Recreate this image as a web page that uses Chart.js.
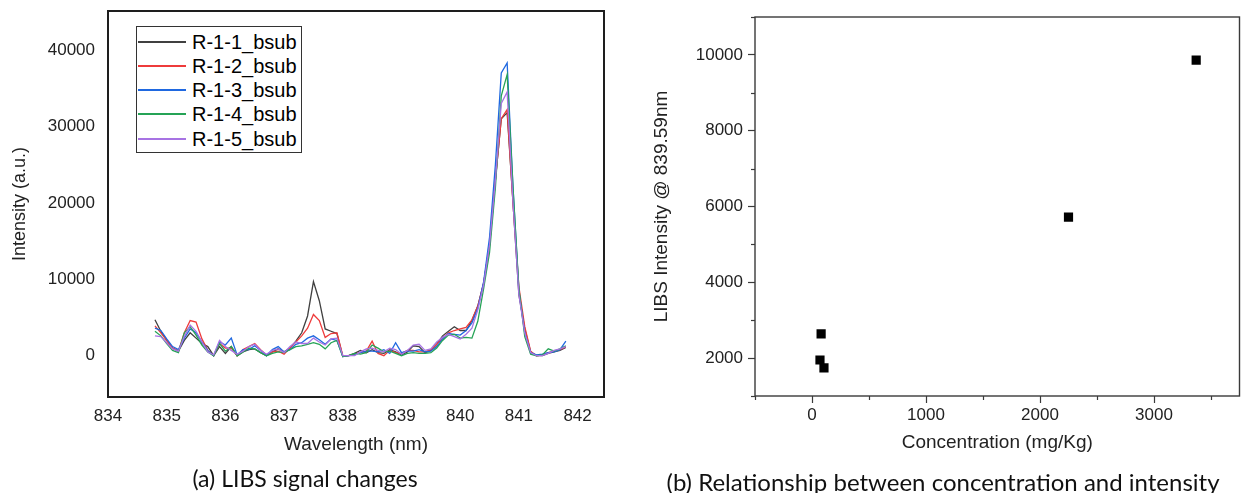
<!DOCTYPE html>
<html><head><meta charset="utf-8">
<script src="https://cdn.jsdelivr.net/npm/chart.js@4.4.0/dist/chart.umd.min.js"></script>
<style>
html,body{margin:0;padding:0;background:#fff;}
body{width:1246px;height:493px;position:relative;overflow:hidden;font-family:"Liberation Sans",Arial,sans-serif;}
#c1{position:absolute;left:0;top:0;width:620px;height:493px;}
#c2{position:absolute;left:620px;top:0;width:626px;height:493px;}
.cap{position:absolute;font-family:Lato,"Open Sans",sans-serif;white-space:nowrap;transform:translate(-50%,-50%);color:#111;}
#legend{position:absolute;left:136px;top:26px;width:164px;height:125px;border:1px solid #333;background:#fff;}
.li{position:absolute;left:0;height:24px;width:164px;}
.li .ln{position:absolute;left:1px;top:11px;width:48px;height:2px;}
.li .tx{position:absolute;left:55px;top:0;line-height:24px;font-size:20px;color:#000;font-family:"Liberation Sans",Arial,sans-serif;}
</style>
</head><body>
<canvas id="c1" width="620" height="493"></canvas>
<canvas id="c2" width="626" height="493"></canvas>
<div id="legend"></div>
<div class="cap" style="left:305px;top:478px;font-size:23px;">(a) LIBS signal changes</div>
<div class="cap" style="left:943px;top:481px;font-size:24px;">(b) Relationship between concentration and intensity</div>
<script>
// ---------- data: panel (a) ----------
const wavelengths = [834.8,834.9,835.0,835.1,835.2,835.3,835.4,835.5,835.6,835.7,
  835.8,835.9,836.0,836.1,836.2,836.3,836.4,836.5,836.6,836.7,
  836.8,836.9,837.0,837.1,837.2,837.3,837.4,837.5,837.6,837.7,
  837.8,837.9,838.0,838.1,838.2,838.3,838.4,838.5,838.6,838.7,
  838.8,838.9,839.0,839.1,839.2,839.3,839.4,839.5,839.6,839.7,
  839.8,839.9,840.0,840.1,840.2,840.3,840.4,840.5,840.6,840.7,
  840.8,840.9,841.0,841.1,841.2,841.3,841.4,841.5,841.6,841.7,841.8];
const seriesNames = ['R-1-1_bsub','R-1-2_bsub','R-1-3_bsub','R-1-4_bsub','R-1-5_bsub'];
const seriesColors = ['#404040','#ee3b3b','#1f68e0','#25a356','#a773e3'];
const r1 = [4700,3200,2000,1000,600,2000,3000,2300,1600,1200,
  0,1200,300,1200,0,500,800,900,400,0,
  500,900,500,1000,1900,3000,5200,9700,7200,3500,
  3200,2900,-100,0,300,700,400,800,400,300,
  800,500,100,500,1300,1200,400,700,1500,2600,
  3200,3800,3300,3300,4600,6500,9500,14500,23000,31000,
  31800,20000,8000,3500,500,0,0,300,500,700,1100];
const r2 = [3900,3000,2000,1000,600,3000,4600,4400,2200,700,
  0,1600,1000,1000,0,800,1200,1600,800,100,
  500,600,200,1000,1800,2600,3600,5400,4600,2400,
  2900,3000,0,0,200,400,600,1900,300,0,
  700,400,300,700,700,500,500,800,1500,2300,
  3000,3300,3500,3700,4700,6500,9500,14500,23000,31000,
  32200,20000,9000,3800,600,0,100,400,600,800,1200];
const r3 = [3600,3300,2200,1200,800,2300,3500,3000,1800,700,
  0,1800,1400,2300,100,800,800,1300,700,0,
  800,1200,500,800,1500,1700,2300,2600,2100,1500,
  2200,2000,-100,0,100,400,600,600,500,800,
  300,1700,400,600,600,800,500,600,1200,2200,
  2900,2800,2700,3300,4300,6200,9700,15500,25000,37000,
  38300,22000,8500,3000,400,100,200,400,500,800,1900];
const r4 = [3200,2600,1600,700,400,3000,3800,2700,1400,500,
  0,1600,600,1200,0,500,1000,900,400,0,
  300,500,400,800,1200,1300,1500,1700,1500,900,
  1700,2000,-100,0,300,200,400,1400,1000,500,
  600,300,0,300,400,300,300,400,1000,2000,
  2700,2800,2300,2400,2300,4500,8800,13500,22000,34000,
  36800,22000,8800,2500,200,0,100,900,600,900,1300];
const r5 = [2600,2500,1700,900,600,2500,4000,3200,1800,500,
  100,2000,1200,700,200,600,1200,1500,700,200,
  700,900,400,1200,1800,1600,1600,2300,1800,1400,
  2200,2300,0,0,0,500,900,1000,700,500,
  1000,800,200,700,1400,1500,700,900,1800,2400,
  2800,2500,2200,2800,3600,6000,9300,14500,23000,33000,
  34500,20000,8000,3000,400,0,0,300,700,900,1200];
const leftXTicks = [834,835,836,837,838,839,840,841,842];
const leftYTicks = [0,10000,20000,30000,40000];

// ---------- data: panel (b) ----------
const concentration = [3370,2250,80,70,105];
const libsIntensity = [9860,5720,2640,1950,1740];
const rightXTicks = [0,1000,2000,3000];
const rightXMinor = [-500,500,1500,2500,3500];
const rightYTicks = [2000,4000,6000,8000,10000];
const rightYMinor = [1000,3000,5000,7000,9000,11000];

Chart.defaults.font.family = "'Liberation Sans', Arial, sans-serif";
Chart.defaults.color = '#222';

const framePlugin = {
  id: 'frame',
  afterDraw(chart, args, opts) {
    const {ctx, chartArea: a} = chart;
    ctx.save();
    ctx.strokeStyle = opts.color || '#222';
    ctx.lineWidth = opts.width || 1;
    ctx.strokeRect(a.left, a.top, a.right - a.left, a.bottom - a.top);
    ctx.restore();
  }
};
const minorTickPlugin = {
  id: 'minorTicks',
  afterDraw(chart, args, opts) {
    if (!opts || !opts.enabled) return;
    const {ctx, chartArea: a} = chart;
    ctx.save();
    ctx.strokeStyle = opts.color;
    ctx.lineWidth = opts.width;
    const sx = chart.scales.x, sy = chart.scales.y;
    opts.xMinor.forEach(v => {
      const p = Math.round(sx.getPixelForValue(v)) + 0.5;
      ctx.beginPath(); ctx.moveTo(p, a.bottom); ctx.lineTo(p, a.bottom + opts.length); ctx.stroke();
    });
    opts.yMinor.forEach(v => {
      const p = Math.round(sy.getPixelForValue(v)) + 0.5;
      ctx.beginPath(); ctx.moveTo(a.left, p); ctx.lineTo(a.left - opts.length, p); ctx.stroke();
    });
    ctx.restore();
  }
};

const series = [r1, r2, r3, r4, r5];
new Chart(document.getElementById('c1'), {
  type: 'line',
  data: {
    datasets: series.map((arr, k) => ({
      label: seriesNames[k],
      data: wavelengths.map((w, i) => ({x: w, y: arr[i]})),
      borderColor: seriesColors[k],
      backgroundColor: seriesColors[k],
      borderWidth: 1.3,
      pointRadius: 0,
      tension: 0,
      fill: false,
      order: series.length - k
    }))
  },
  options: {
    responsive: false,
    animation: false,
    layout: {padding: {top: 11, right: 16, left: 0, bottom: 0}},
    plugins: {legend: {display: false}, tooltip: {enabled: false}, frame: {color: '#1e1e1e', width: 2}, minorTicks: {enabled: false}},
    scales: {
      x: {
        type: 'linear', min: 834, max: 842.45,
        afterFit: s => { s.height = 96; s.paddingLeft = 0; s.paddingRight = 0; },
        afterBuildTicks: s => { s.ticks = leftXTicks.map(v => ({value: v})); },
        grid: {display: false, drawTicks: false},
        border: {display: false},
        ticks: {maxRotation: 0, autoSkip: false, padding: 9, font: {size: 17}, color: '#222',
          callback: v => String(v)},
        title: {display: true, text: 'Wavelength (nm)', font: {size: 19}, color: '#222', padding: {top: 0, bottom: 37}}
      },
      y: {
        type: 'linear', min: -5400, max: 45100,
        afterFit: s => { s.width = 108; s.paddingTop = 0; s.paddingBottom = 0; },
        afterBuildTicks: s => { s.ticks = leftYTicks.map(v => ({value: v})); },
        grid: {display: false, drawTicks: false},
        border: {display: false},
        ticks: {autoSkip: false, padding: 13, font: {size: 17}, color: '#222',
          callback: v => String(v)},
        title: {display: true, text: 'Intensity (a.u.)', font: {size: 18}, color: '#222', padding: {top: 9, bottom: 0}}
      }
    }
  },
  plugins: [framePlugin, minorTickPlugin]
});

new Chart(document.getElementById('c2'), {
  type: 'scatter',
  data: {
    datasets: [{
      label: 'LIBS Intensity',
      data: concentration.map((c, i) => ({x: c, y: libsIntensity[i]})),
      pointStyle: 'rect',
      pointRadius: 6.5,
      pointBackgroundColor: '#000',
      pointBorderWidth: 0,
      borderWidth: 0
    }]
  },
  options: {
    responsive: false,
    animation: false,
    layout: {padding: {top: 17, right: 4, left: 0, bottom: 0}},
    plugins: {legend: {display: false}, tooltip: {enabled: false}, frame: {color: '#3a3a3a', width: 1.4},
      minorTicks: {enabled: true, color: '#3a3a3a', width: 1.2, length: 4, xMinor: rightXMinor, yMinor: rightYMinor}},
    scales: {
      x: {
        type: 'linear', min: -500, max: 3750,
        afterFit: s => { s.height = 97; s.paddingLeft = 0; s.paddingRight = 0; },
        afterBuildTicks: s => { s.ticks = rightXTicks.map(v => ({value: v})); },
        grid: {display: true, drawOnChartArea: false, drawTicks: true, tickLength: 7, tickWidth: 1.2, tickColor: '#3a3a3a'},
        border: {display: false},
        ticks: {maxRotation: 0, autoSkip: false, padding: 2, font: {size: 17}, color: '#222',
          callback: v => String(v)},
        title: {display: true, text: 'Concentration (mg/Kg)', font: {size: 19}, color: '#222', padding: {top: 0, bottom: 39}}
      },
      y: {
        type: 'linear', min: 1000, max: 11000,
        afterFit: s => { s.width = 135; s.paddingTop = 0; s.paddingBottom = 0; },
        afterBuildTicks: s => { s.ticks = rightYTicks.map(v => ({value: v})); },
        grid: {display: true, drawOnChartArea: false, drawTicks: true, tickLength: 7, tickWidth: 1.2, tickColor: '#3a3a3a'},
        border: {display: false},
        ticks: {autoSkip: false, padding: 5, font: {size: 17}, color: '#222',
          callback: v => String(v)},
        title: {display: true, text: 'LIBS Intensity @ 839.59nm', font: {size: 19}, color: '#222', padding: {top: 30, bottom: 0}}
      }
    }
  },
  plugins: [framePlugin, minorTickPlugin]
});

// HTML legend built from the dataset names/colours
const lg = document.getElementById('legend');
seriesNames.forEach((n, i) => {
  const d = document.createElement('div');
  d.className = 'li';
  d.style.top = (2.5 + 24.3 * i) + 'px';
  d.innerHTML = '<div class="ln" style="background:' + seriesColors[i] + '"></div><div class="tx">' + n + '</div>';
  lg.appendChild(d);
});
</script>
</body></html>
